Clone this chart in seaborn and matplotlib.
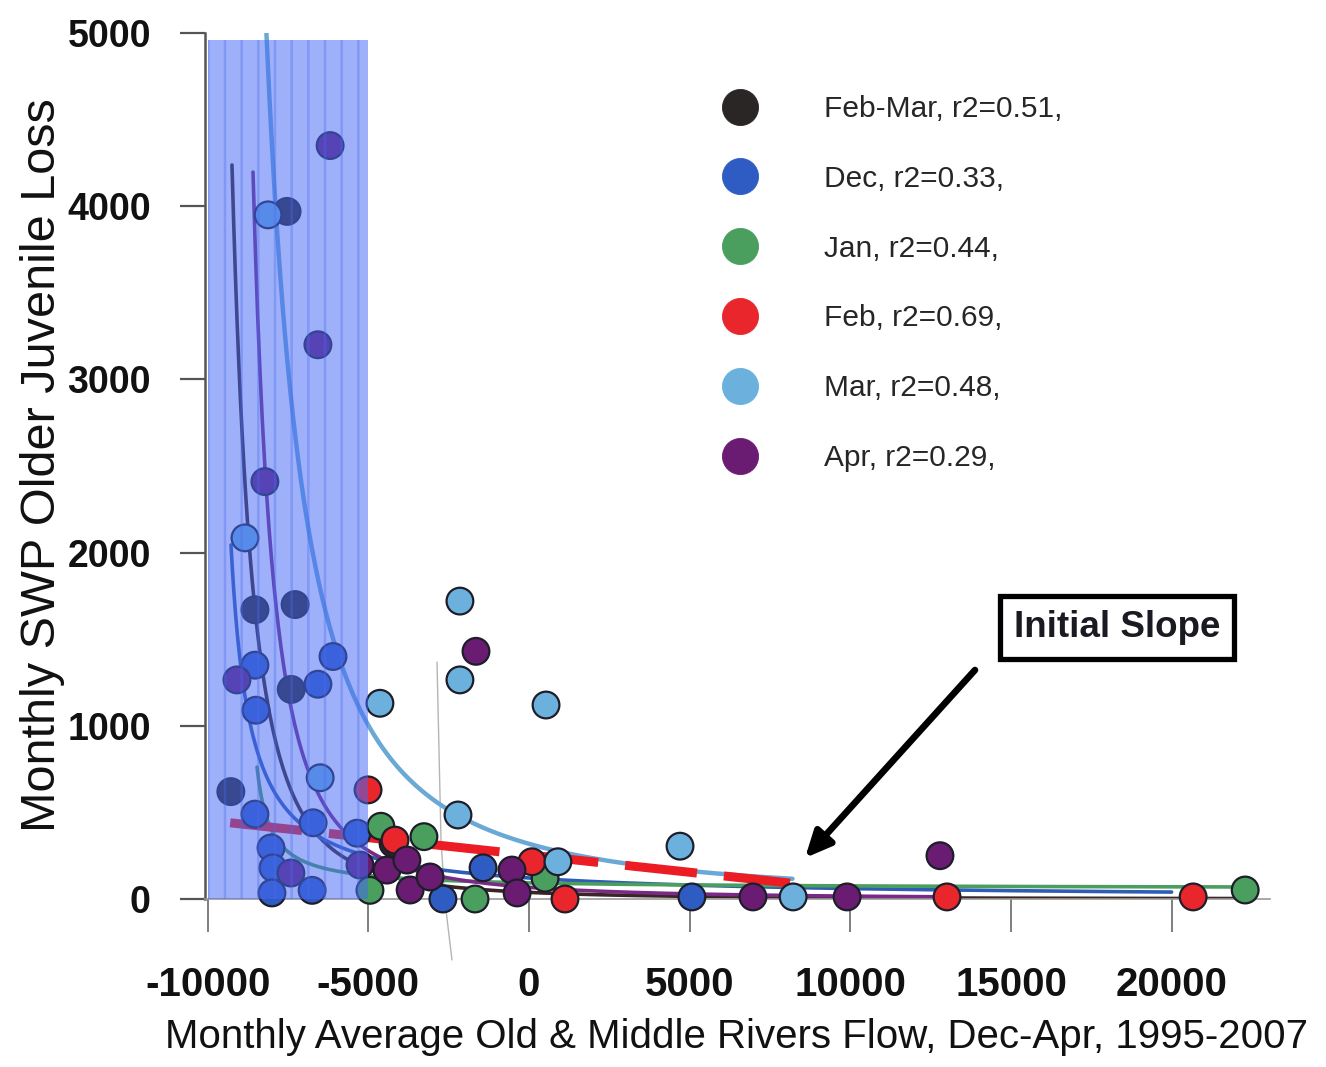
import numpy as np
import pandas as pd
import matplotlib
matplotlib.use("Agg")
import matplotlib.pyplot as plt
from matplotlib.lines import Line2D
import seaborn as sns

sns.set_theme(style="white")
plt.rcParams["font.family"] = ["Liberation Sans", "DejaVu Sans"]
plt.rcParams["hatch.linewidth"] = 1.8
plt.rcParams["axes.unicode_minus"] = False

SANS = ["Liberation Sans", "DejaVu Sans"]

# ---- series definitions -------------------------------------------------
months = ["Feb-Mar", "Dec", "Jan", "Feb", "Mar", "Apr"]
r2_values = [0.51, 0.33, 0.44, 0.69, 0.48, 0.29]
point_colors = ["#2b2626", "#2f5cc2", "#4a9e5e", "#e8262b", "#6cb0dd", "#6a1b72"]
line_colors = ["#3a2424", "#2f5cb4", "#4a9e5e", "#ec1c24", "#6aa9d6", "#7a2a86"]

# ---- observations: flow (cfs) and loss ---------------------------------
feb_mar_flow = [-7530, -8530, -7280, -7400, -9280, -4230]
feb_mar_loss = [3970, 1670, 1700, 1210, 620, 320]

dec_flow = [-6100, -8530, -6570, -8500, -8530, -8030, -7970, -8000, -6750,
            -6720, -5350, -1430, -2680, 5070]
dec_loss = [1400, 1350, 1240, 1090, 490, 295, 180, 35, 50,
            440, 380, 180, 0, 12]

jan_flow = [-4610, -3270, 500, -1680, 22290, -4950]
jan_loss = [420, 360, 120, 0, 52, 50]

feb_flow = [-5010, -4170, 90, 1120, 13010, 20670]
feb_loss = [630, 340, 215, 0, 12, 12]

mar_flow = [-8120, -8840, -6500, -4640, -2150, -2150, 530, -2210, 4700, 900, 8220]
mar_loss = [3950, 2085, 700, 1130, 1720, 1265, 1120, 485, 305, 215, 12]

apr_flow = [-6190, -6570, -8220, -9090, -7410, -1650, 12790, 6970, 9900,
            -530, -4420, -3800, -3700, -3080, -370, -5260]
apr_loss = [4350, 3200, 2410, 1265, 150, 1430, 250, 12, 12,
            167, 167, 225, 52, 127, 35, 196]

# ---- fitted trend coefficients: y = c + (yr - c) * ((xr - x0) / (x - x0)) ** k
trend_x0 = [-10755, -9860, -8886, 12727, -10190, -9837]
trend_k = [2.4, 1.0, 1.0, -1.0, 1.7, 2.0]
trend_xr = [-9244, -9275, -8466, -9300, -7221, -8590]
trend_yr = [4238, 2044, 762, 440, 2592, 4197]
trend_c = [0, 0, 60, 0, 0, 0]
trend_start = [-9244, -9275, -8466, -9300, -8300, -8590]
trend_end = [22300, 20000, 22300, 8123, 8200, 13000]

# low-flow band and stray guide line
band_flow = [-10000, -5000]
band_top = 4960
guide_flow = [-2863, -2739, -2614, -2397]
guide_loss = [1368, 341, -17, -352]

# annotation anchors
arrow_tip = (8590, 237)
arrow_tail = (13880, 1322)
note_pos = (18300, 1565)

# ---- assemble tidy frame ------------------------------------------------
flows = [feb_mar_flow, dec_flow, jan_flow, feb_flow, mar_flow, apr_flow]
losses = [feb_mar_loss, dec_loss, jan_loss, feb_loss, mar_loss, apr_loss]
df = pd.concat(
    [pd.DataFrame({"month": m, "flow": f, "loss": l})
     for m, f, l in zip(months, flows, losses)],
    ignore_index=True,
)
palette = dict(zip(months, point_colors))

fig = plt.figure(figsize=(13.26, 10.67), dpi=100)
ax = fig.add_axes([205 / 1326, 1 - 899 / 1067, 1065 / 1326, 866 / 1067])

# trend curves
for i, m in enumerate(months):
    xs = np.linspace(trend_start[i], trend_end[i], 600)
    ys = trend_c[i] + (trend_yr[i] - trend_c[i]) * (
        (trend_xr[i] - trend_x0[i]) / (xs - trend_x0[i])) ** trend_k[i]
    if m == "Feb":
        ax.plot(xs, ys, color=line_colors[i], lw=6.5, dashes=(8, 3),
                zorder=2.6, solid_capstyle="butt")
    else:
        lw = 3.2 if m == "Mar" else 2.6
        sns.lineplot(x=xs, y=ys, color=line_colors[i], lw=lw, ax=ax,
                     zorder=2.2, sort=False)

# observations
sns.scatterplot(data=df, x="flow", y="loss", hue="month", palette=palette,
                s=370, edgecolor="#1e1e2a", linewidth=1.6, legend=False,
                ax=ax, zorder=3, clip_on=False)

# stray thin guide line
ax.plot(guide_flow, guide_loss, color="#b5b5b5", lw=1.0, zorder=1.5,
        clip_on=False)

# translucent low-flow band drawn over the data
ax.fill_between(band_flow, 0, band_top, facecolor=(0.27, 0.41, 0.96, 0.52),
                edgecolor=(0.30, 0.42, 0.92, 0.35), hatch="|", linewidth=0,
                zorder=4)

# axes styling
ax.set_xlim(-10084, 23062)
ax.set_ylim(0, 5000)
ax.set_xticks([-10000, -5000, 0, 5000, 10000, 15000, 20000])
ax.set_yticks([0, 1000, 2000, 3000, 4000, 5000])
sns.despine(ax=ax)
ax.spines["left"].set_color("#555555")
ax.spines["left"].set_linewidth(1.8)
ax.spines["bottom"].set_color("#9a9a9a")
ax.spines["bottom"].set_linewidth(1.2)
ax.tick_params(axis="x", direction="out", length=24, width=1.2,
               color="#6a6a6a", pad=24, bottom=True)
ax.tick_params(axis="y", direction="out", length=18, width=1.6,
               color="#555555", pad=21, left=True)
for lbl in ax.get_xticklabels():
    lbl.set_fontfamily(SANS)
    lbl.set_fontsize(29)
    lbl.set_fontweight("bold")
    lbl.set_color("#111111")
for lbl in ax.get_yticklabels():
    lbl.set_fontfamily(SANS)
    lbl.set_fontsize(27)
    lbl.set_fontweight("bold")
    lbl.set_color("#111111")

ax.set_xlabel("Monthly Average Old & Middle Rivers Flow, Dec-Apr, 1995-2007",
              fontfamily=SANS, fontsize=29, color="#111111", va="center")
ax.xaxis.set_label_coords(0.4986, -0.159)
ax.set_ylabel("Monthly SWP Older Juvenile Loss", fontfamily=SANS,
              fontsize=35, color="#111111", va="center")
ax.yaxis.set_label_coords(-0.153, 0.501)

# legend
handles = [Line2D([], [], ls="", marker="o", markersize=26,
                  markerfacecolor=c, markeredgecolor=c,
                  markeredgewidth=0.6) for c in point_colors]
labels = [f"{m}, r2={r:.2f}," for m, r in zip(months, r2_values)]
leg = ax.legend(handles, labels, loc="upper left",
                bbox_to_anchor=(725 / 1326, 1 - 95 / 1067),
                bbox_transform=fig.transFigure, frameon=False,
                handlelength=1.0, handletextpad=2.3, labelspacing=1.40,
                borderpad=0, borderaxespad=0,
                prop={"family": SANS, "size": 21.5})
leg.set_zorder(6)

# initial-slope callout
ax.annotate("", xy=arrow_tip, xytext=arrow_tail,
            arrowprops=dict(arrowstyle="-|>,head_length=1.3,head_width=0.6",
                            lw=4.8, color="black", shrinkA=0, shrinkB=0),
            zorder=5)
ax.text(*note_pos, "Initial Slope", ha="center", va="center",
        fontfamily=SANS, fontsize=26.5, fontweight="bold", color="#1a1a22",
        zorder=5,
        bbox=dict(boxstyle="square,pad=0.38", fc="white", ec="black", lw=3.8))

fig.savefig("out.png", dpi=100)
